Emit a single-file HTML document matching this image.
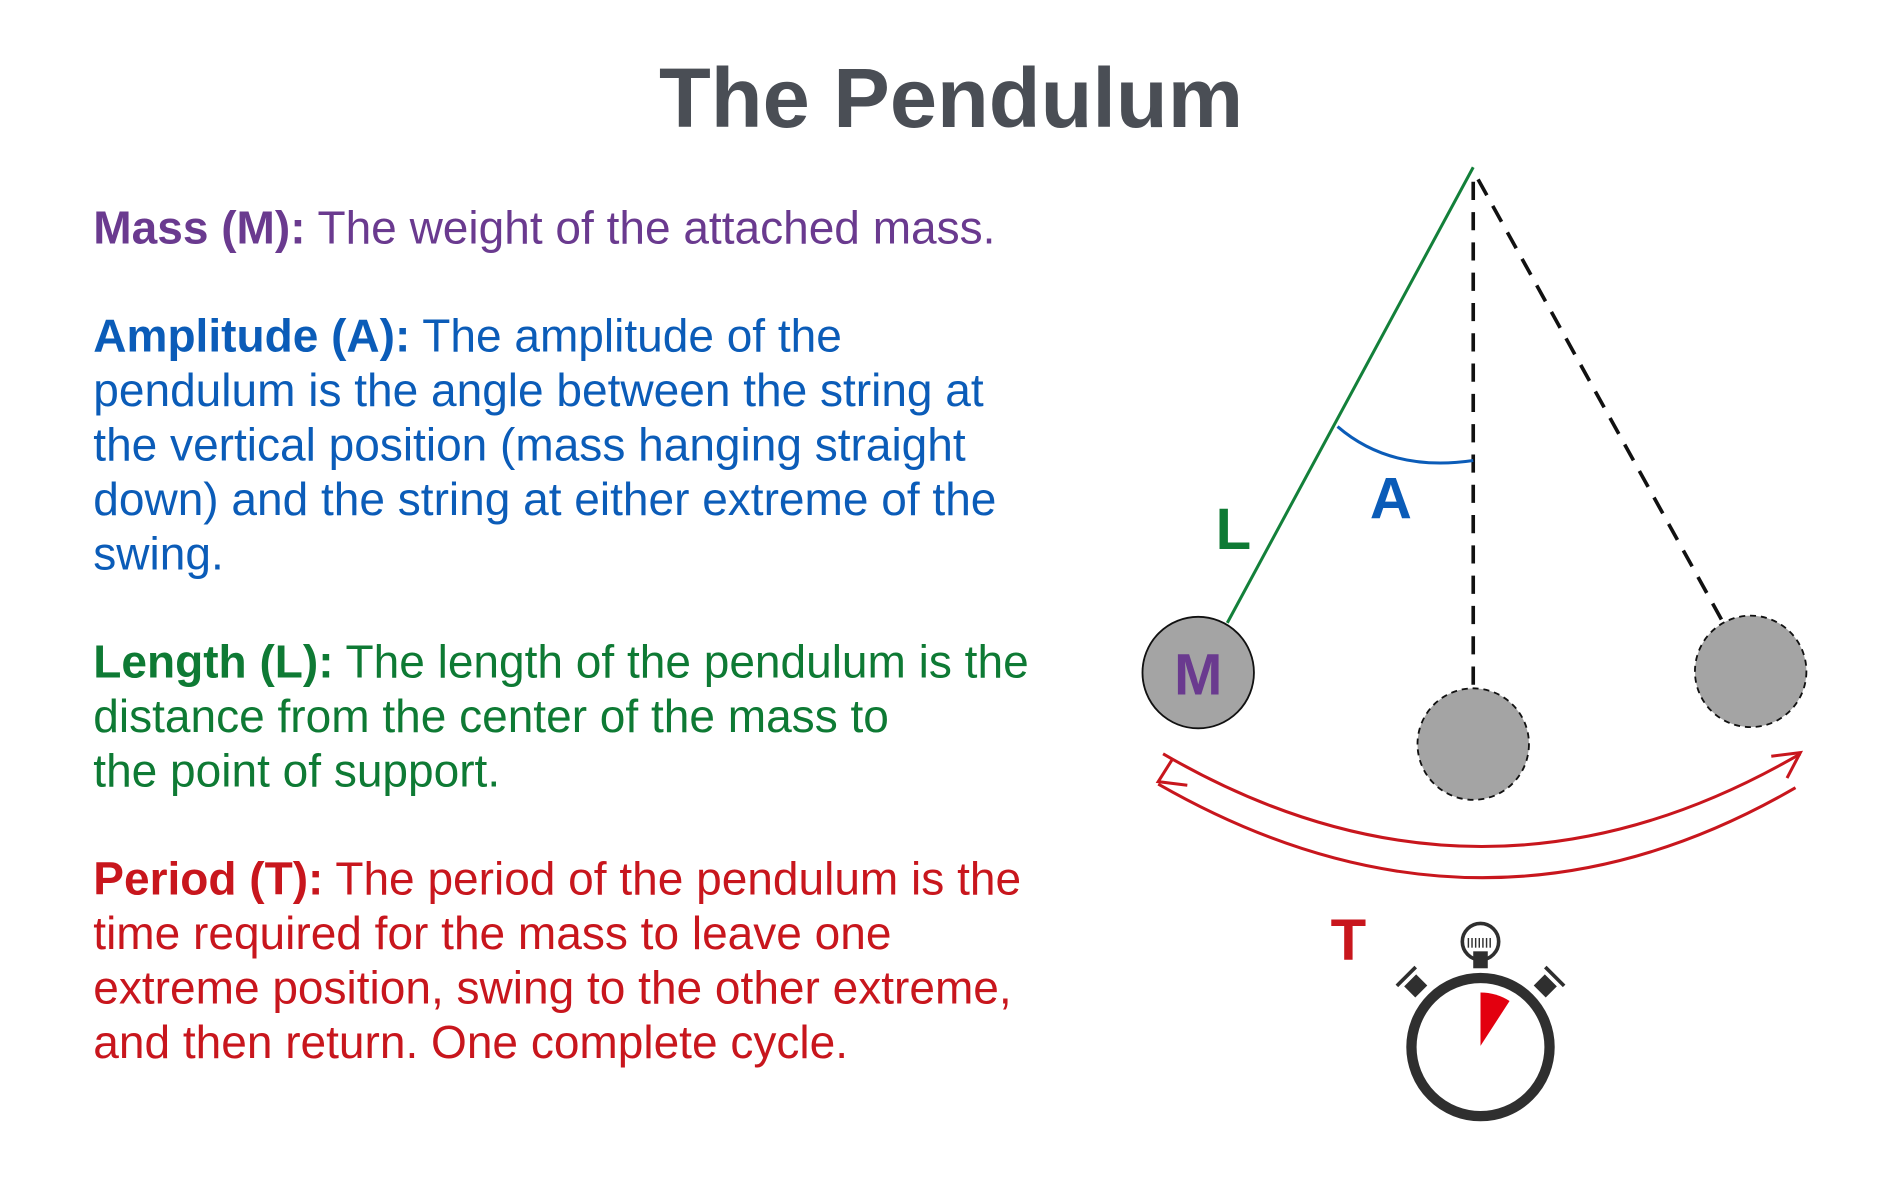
<!DOCTYPE html>
<html><head><meta charset="utf-8"><style>
html,body{margin:0;padding:0;background:#fff;}
svg{display:block;}
</style></head><body>
<svg width="1890" height="1184" viewBox="0 0 1560 977" preserveAspectRatio="none" xmlns="http://www.w3.org/2000/svg" font-family="Liberation Sans, Arial, sans-serif">
<text x="785" y="105" text-anchor="middle" font-size="70" font-weight="bold" fill="#4a4e55">The Pendulum</text>
<g font-size="38">
<text x="77" y="201" fill="#6a3a8f"><tspan font-weight="bold">Mass (M):</tspan> The weight of the attached mass.</text>
<g fill="#0b5cb8">
<text x="77" y="290"><tspan font-weight="bold">Amplitude (A):</tspan> The amplitude of the</text>
<text x="77" y="335">pendulum is the angle between the string at</text>
<text x="77" y="380">the vertical position (mass hanging straight</text>
<text x="77" y="425">down) and the string at either extreme of the</text>
<text x="77" y="470">swing.</text>
</g>
<g fill="#0e7a34">
<text x="77" y="559"><tspan font-weight="bold">Length (L):</tspan> The length of the pendulum is the</text>
<text x="77" y="604">distance from the center of the mass to</text>
<text x="77" y="649">the point of support.</text>
</g>
<g fill="#c8161d">
<text x="77" y="738"><tspan font-weight="bold">Period (T):</tspan> The period of the pendulum is the</text>
<text x="77" y="783">time required for the mass to leave one</text>
<text x="77" y="828">extreme position, swing to the other extreme,</text>
<text x="77" y="873">and then return. One complete cycle.</text>
</g>
</g>
<line x1="1216" y1="138" x2="1013" y2="514" stroke="#13803a" stroke-width="2.5"/>
<line x1="1216" y1="150" x2="1216" y2="567" stroke="#111" stroke-width="3" stroke-dasharray="15,10"/>
<line x1="1220" y1="148" x2="1423" y2="515" stroke="#111" stroke-width="3" stroke-dasharray="15,10"/>
<path d="M1104 352 Q1148 390 1216 380" fill="none" stroke="#0b5cb8" stroke-width="2.5"/>
<circle cx="989" cy="555" r="46" fill="#a4a4a4" stroke="#111" stroke-width="1.5"/>
<circle cx="1216" cy="614" r="46" fill="#a4a4a4" stroke="#111" stroke-width="1.5" stroke-dasharray="5,4"/>
<circle cx="1445" cy="554" r="46" fill="#a4a4a4" stroke="#111" stroke-width="1.5" stroke-dasharray="5,4"/>
<text x="989" y="573" text-anchor="middle" font-size="48" font-weight="bold" fill="#6a3a8f">M</text>
<text x="1148" y="428" text-anchor="middle" font-size="48" font-weight="bold" fill="#0b5cb8">A</text>
<text x="1018" y="453" text-anchor="middle" font-size="48" font-weight="bold" fill="#0e7a34">L</text>
<text x="1113" y="792" text-anchor="middle" font-size="48" font-weight="bold" fill="#c8161d">T</text>
<g fill="none" stroke="#c8161d" stroke-width="2.5">
<path d="M960 622 Q1223 775 1486 622"/>
<path d="M1462 624 L1486 621 L1475 642"/>
<path d="M956 647 Q1223 800 1482 650"/>
<path d="M980 648 L956 645 L968 626"/>
</g>
<circle cx="1222" cy="864" r="57" fill="none" stroke="#2f2f2f" stroke-width="8.5"/>
<circle cx="1222" cy="777" r="15" fill="none" stroke="#2f2f2f" stroke-width="3"/>
<g stroke="#2f2f2f" stroke-width="1.2">
<line x1="1212" y1="774" x2="1212" y2="782"/><line x1="1215" y1="774" x2="1215" y2="782"/><line x1="1218" y1="774" x2="1218" y2="782"/><line x1="1221" y1="774" x2="1221" y2="782"/><line x1="1224" y1="774" x2="1224" y2="782"/><line x1="1227" y1="774" x2="1227" y2="782"/><line x1="1230" y1="774" x2="1230" y2="782"/>
</g>
<rect x="1216" y="785" width="12" height="14" fill="#2f2f2f"/>
<g transform="rotate(-45 1171 816)" fill="#2f2f2f"><rect x="1164" y="806" width="14" height="13"/><rect x="1160" y="800" width="22" height="3"/></g>
<g transform="rotate(45 1273 816)" fill="#2f2f2f"><rect x="1266" y="806" width="14" height="13"/><rect x="1262" y="800" width="22" height="3"/></g>
<path d="M1222 863 L1222 819 A45 45 0 0 1 1246 826 Z" fill="#e3000f"/>
</svg>
</body></html>
